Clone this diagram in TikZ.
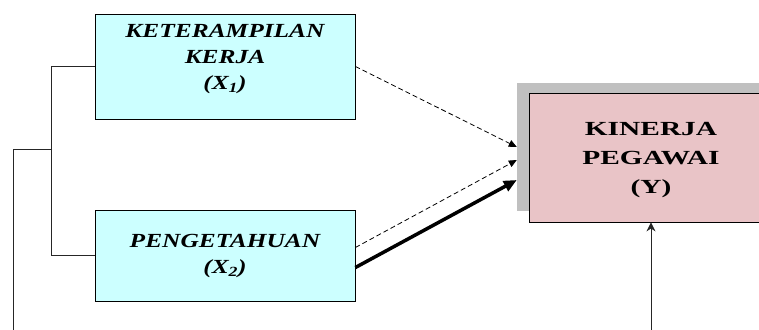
\documentclass[tikz,border=0pt]{standalone}
\usepackage{fontspec}
\setmainfont{Liberation Serif}
\usetikzlibrary{arrows.meta}
\definecolor{boxcyan}{RGB}{204,255,255}
\definecolor{boxpink}{RGB}{233,196,199}
\definecolor{shadowgray}{RGB}{192,192,192}
\newcommand{\wideX}[1]{\scalebox{1.27}[1]{#1}}
\newcommand{\wideY}[1]{\scalebox{1.47}[1]{#1}}
\tikzset{
  xbox/.style={draw=black, line width=0.8pt, fill=boxcyan, inner sep=0pt,
    minimum width=260pt},
  xtext/.style={align=center, inner sep=0pt, font=\fontsize{20}{26}\selectfont\bfseries\itshape},
  ybox/.style={draw=black, line width=0.8pt, fill=boxpink, inner sep=0pt,
    minimum width=242pt, minimum height=129pt},
  ytext/.style={align=center, inner sep=0pt, font=\fontsize{20}{29}\selectfont\bfseries},
  shadowbox/.style={fill=shadowgray, inner sep=0pt, minimum width=242pt, minimum height=128pt},
  thinline/.style={line width=0.8pt, draw=black!85},
  dashedarrow/.style={line width=0.8pt, dashed, dash pattern=on 5pt off 3pt, -{Triangle[length=8pt,width=7pt]}},
  thickarrow/.style={line width=3.5pt, -{Triangle[length=13pt,width=11pt]}},
  uparrow/.style={line width=0.9pt, draw=black!85, -{Stealth[length=9pt,width=9pt]}}
}
\begin{document}
\begin{tikzpicture}[x=1pt,y=-1pt]
\useasboundingbox (0,0) rectangle (759,329);
% boxes
\node[xbox, minimum height=105pt] (x1) at (225,66.5) {};
\node[xtext] (x1t) at (225,59) {\wideX{KETERAMPILAN}\\\wideX{KERJA}\\\wideX{(X\textsubscript{1})}};
\node[xbox, minimum height=91pt] (x2) at (225,255.5) {};
\node[xtext] (x2t) at (225,256) {\wideX{PENGETAHUAN}\\\wideX{(X\textsubscript{2})}};
\node[shadowbox] (ysh) at (638,147) {};
\node[ybox] (y) at (650,157.5) {};
\node[ytext] (yt) at (651,160) {\wideY{KINERJA}\\\wideY{PEGAWAI}\\\wideY{(Y)}};
% bracket on the left
\coordinate (j) at (52,149);
\coordinate (lft) at (13,149);
\coordinate (lbot) at (13,330);
\draw[thinline] (x1.west) -- ++(-43,0) |- (x2.west);
\draw[thinline] (j) -- (lft) -- (lbot);
% arrows into Y
\draw[dashedarrow] (x1.east) -- (ysh.west);
\draw[dashedarrow] ([yshift=8pt]x2.east) -- ([yshift=-13pt]ysh.west);
\draw[thickarrow] ([yshift=-12pt]x2.east) -- ([yshift=-33pt]ysh.west);
% arrow from below
\coordinate (ybot) at (651,330);
\draw[uparrow] (ybot) -- (ybot |- y.south);
\end{tikzpicture}
\end{document}
